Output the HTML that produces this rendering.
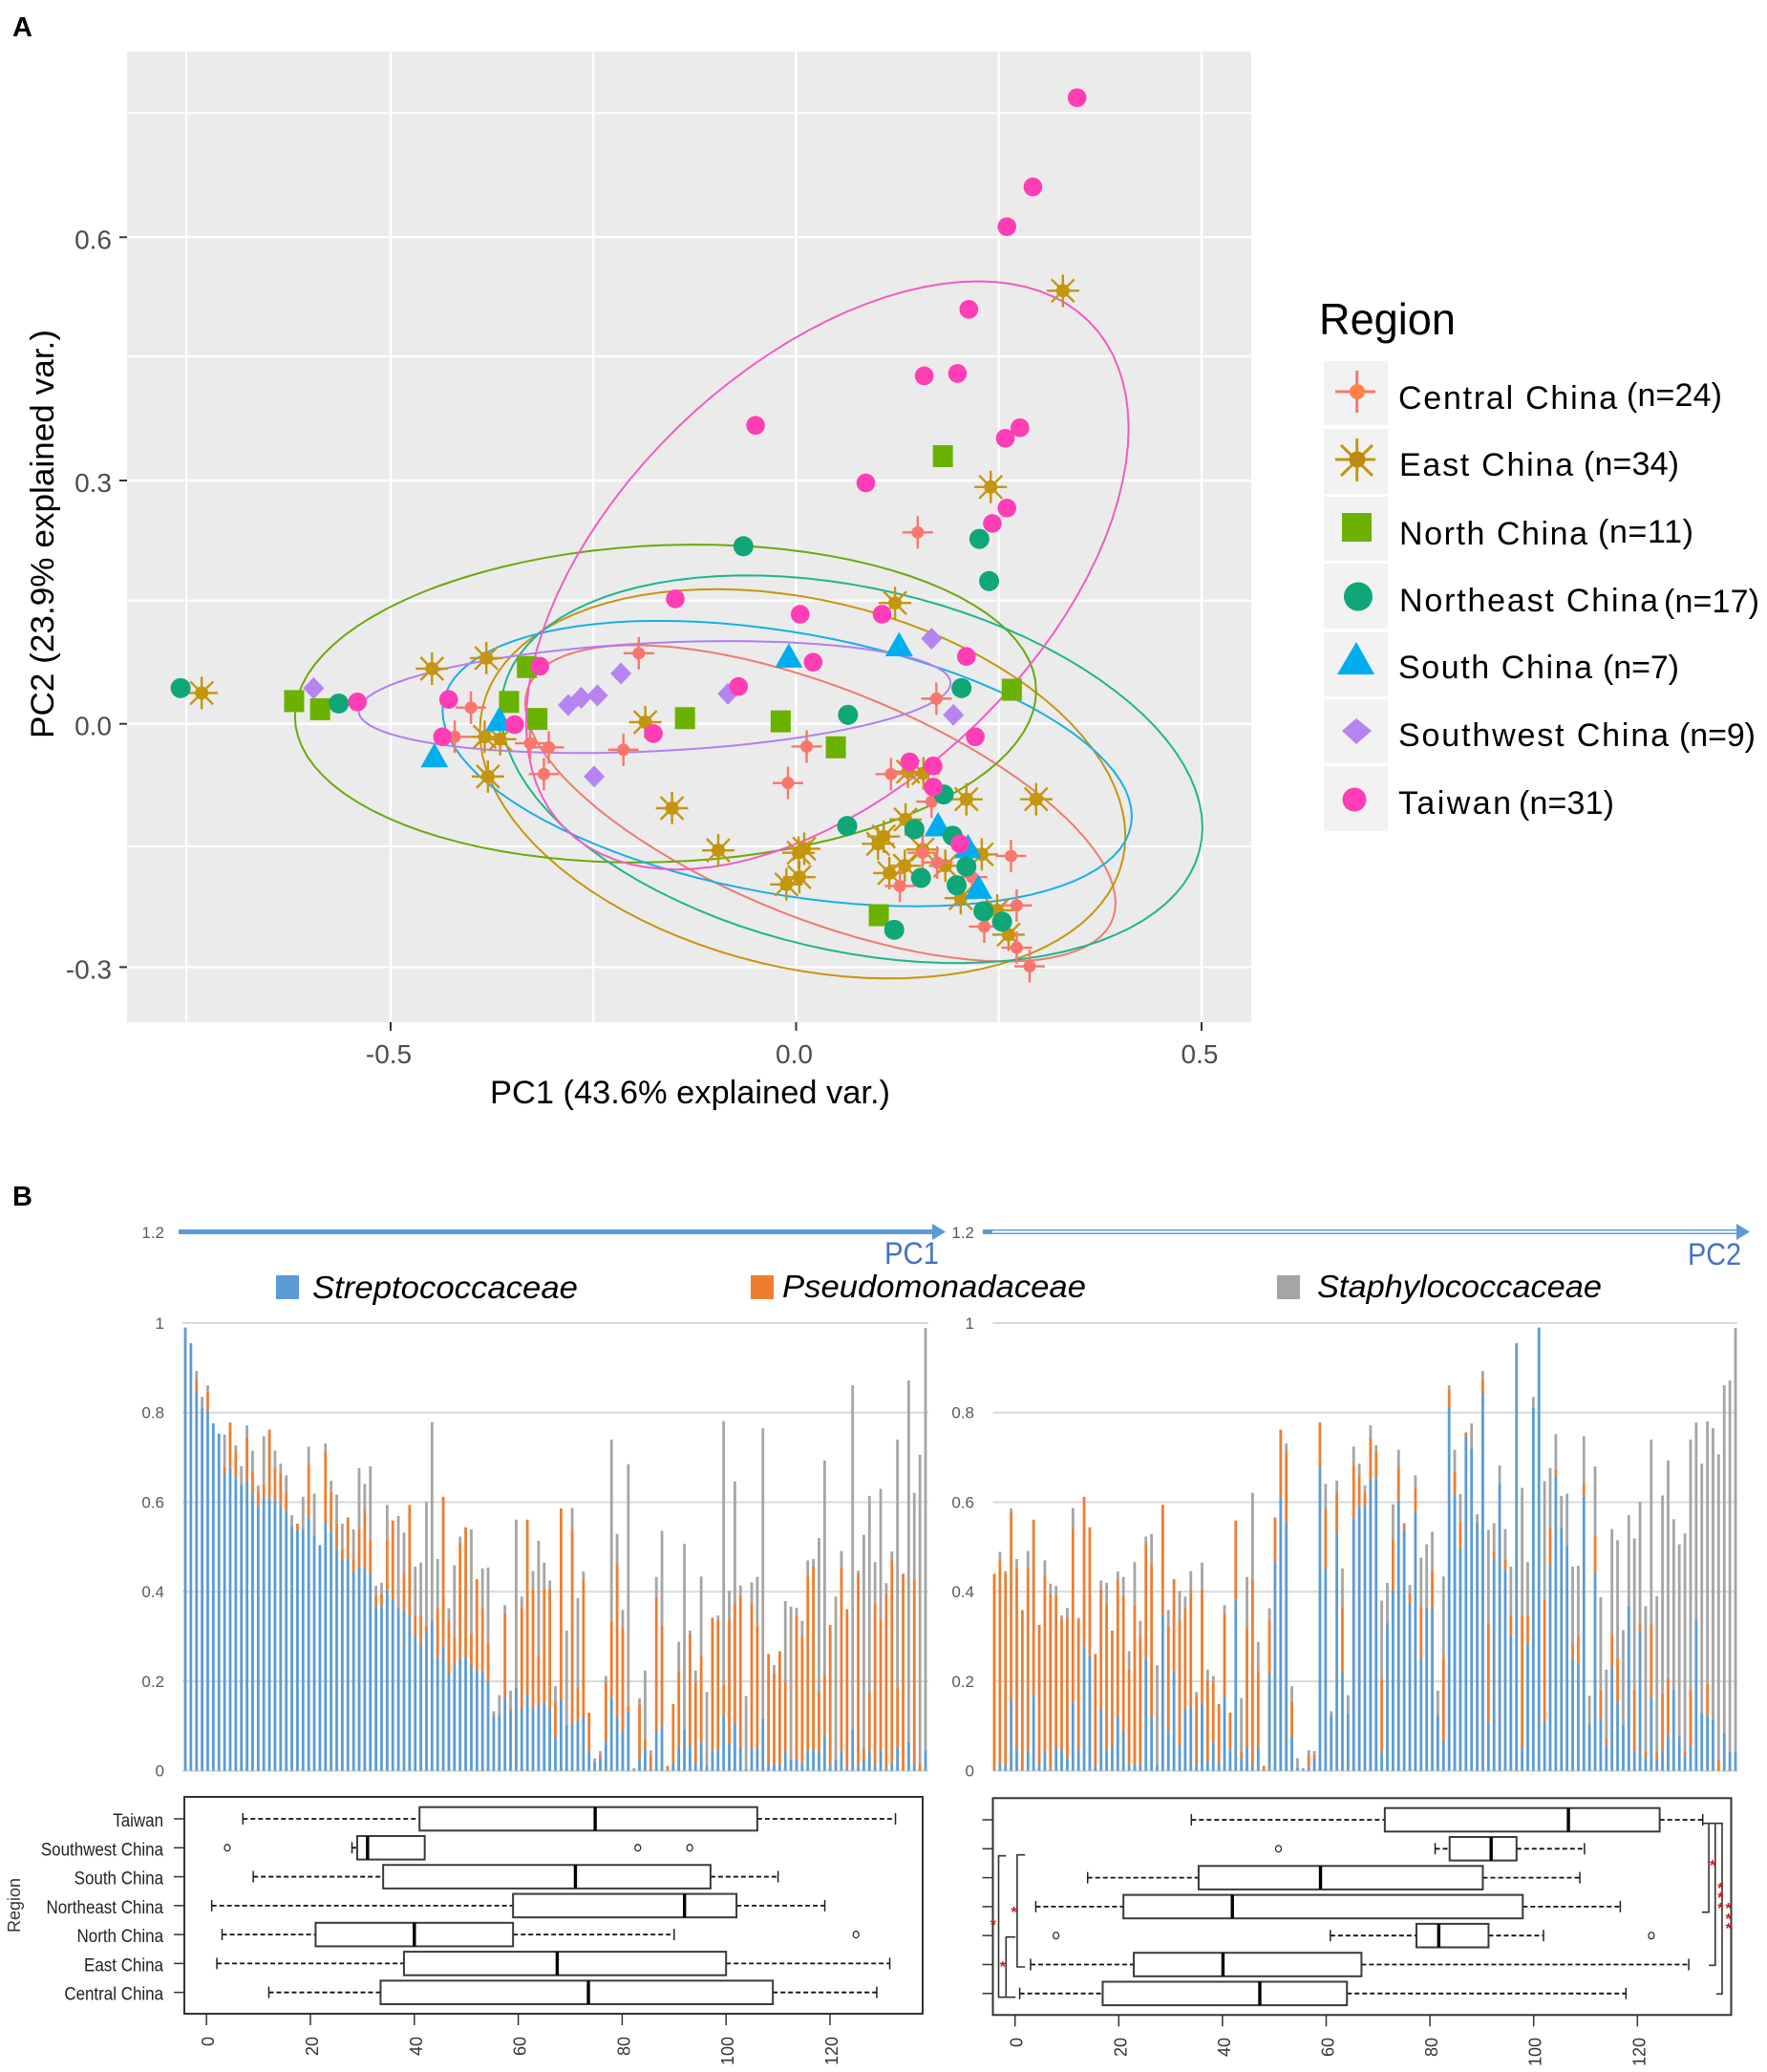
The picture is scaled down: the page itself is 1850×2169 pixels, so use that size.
<!DOCTYPE html>
<html lang="en">
<head>
<meta charset="utf-8">
<title>Region PCA and taxa abundance</title>
<style>
html,body{margin:0;padding:0;background:#fff;}
svg{display:block;font-family:"Liberation Sans",sans-serif;}
</style>
</head>
<body>
<svg id="figure" xmlns="http://www.w3.org/2000/svg" width="1850" height="2169" viewBox="0 0 1850 2169">
  <rect width="1850" height="2169" fill="#fff"/>
  <text x="13" y="38" font-size="29" font-weight="bold" fill="#000">A</text>
  <text x="13" y="1262" font-size="29" font-weight="bold" fill="#000">B</text>

  <g id="scatter"></g>
  <text x="513" y="1155" font-size="34" fill="#000" textLength="419" lengthAdjust="spacingAndGlyphs">PC1 (43.6% explained var.)</text>
  <text transform="translate(56,773) rotate(-90)" font-size="34" fill="#000" textLength="428" lengthAdjust="spacingAndGlyphs">PC2 (23.9% explained var.)</text>

  <g>
    <text x="1381" y="350" font-size="46" fill="#000" textLength="143" lengthAdjust="spacingAndGlyphs">Region</text>
    <rect x="1386" y="378" width="67" height="67" fill="#f2f2f2"/>
    <rect x="1386" y="449" width="67" height="68" fill="#f2f2f2"/>
    <rect x="1386" y="520" width="67" height="67" fill="#f2f2f2"/>
    <rect x="1386" y="590" width="67" height="68" fill="#f2f2f2"/>
    <rect x="1386" y="662" width="67" height="67" fill="#f2f2f2"/>
    <rect x="1386" y="732" width="67" height="67" fill="#f2f2f2"/>
    <rect x="1386" y="802" width="67" height="68" fill="#f2f2f2"/>

    <g>
      <path d="M1398 410H1440M1420.7 388V432" stroke="#F8766D" stroke-width="3" fill="none"/>
      <circle cx="1421" cy="410" r="8" fill="#FF8146"/>
    </g>
    <g>
      <path d="M1398 481H1440M1420.7 459V504M1404 466L1437 498M1404 498L1437 466" stroke="#C6950E" stroke-width="3" fill="none"/>
      <circle cx="1421" cy="481" r="8.5" fill="#BE8A0C"/>
    </g>
    <rect x="1405" y="537" width="31" height="30" fill="#6BB100"/>
    <circle cx="1422" cy="624.5" r="15" fill="#0FA678"/>
    <polygon points="1420,672 1400,706 1439,706" fill="#00ADEE"/>
    <polygon points="1420,752 1436,765 1420,779 1405,765" fill="#B684F0"/>
    <circle cx="1418" cy="837" r="12.5" fill="#FF3DB4"/>

    <g font-size="34" fill="#000">
      <text x="1464" y="428" textLength="229" lengthAdjust="spacing">Central China</text>
      <text x="1703" y="425" textLength="100" lengthAdjust="spacing">(n=24)</text>
      <text x="1465" y="498" textLength="182" lengthAdjust="spacing">East China</text>
      <text x="1658" y="497" textLength="100" lengthAdjust="spacing">(n=34)</text>
      <text x="1465" y="570" textLength="197" lengthAdjust="spacing">North China</text>
      <text x="1673" y="568" textLength="100" lengthAdjust="spacing">(n=11)</text>
      <text x="1465" y="640" textLength="271" lengthAdjust="spacing">Northeast China</text>
      <text x="1742" y="641" textLength="100" lengthAdjust="spacing">(n=17)</text>
      <text x="1464" y="710" textLength="203" lengthAdjust="spacing">South China</text>
      <text x="1678" y="710" textLength="80" lengthAdjust="spacing">(n=7)</text>
      <text x="1464" y="781" textLength="283" lengthAdjust="spacing">Southwest China</text>
      <text x="1758" y="781" textLength="80" lengthAdjust="spacing">(n=9)</text>
      <text x="1464" y="852" textLength="118" lengthAdjust="spacing">Taiwan</text>
      <text x="1590" y="852" textLength="100" lengthAdjust="spacing">(n=31)</text>
    </g>
  </g>

  <g>
    <rect x="187" y="1287" width="790" height="5" fill="#5B9BD5"/>
    <polygon points="976,1281 990,1289.5 976,1298" fill="#5B9BD5"/>
  </g>
  <g>
    <rect x="1029" y="1287" width="10" height="5" fill="#5B9BD5"/>
    <path d="M1037 1287.8H1820M1037 1291.2H1820" stroke="#5B9BD5" stroke-width="1.5" fill="none"/>
    <polygon points="1818,1281 1832,1289.5 1818,1298" fill="#5B9BD5"/>
  </g>
  <text x="926" y="1323" font-size="32" fill="#4472C4" textLength="57" lengthAdjust="spacingAndGlyphs">PC1</text>
  <text x="1767" y="1324" font-size="32" fill="#4472C4" textLength="56" lengthAdjust="spacingAndGlyphs">PC2</text>
  <text x="172" y="1296" text-anchor="end" font-size="17" fill="#595959">1.2</text>
  <text x="1020" y="1296" text-anchor="end" font-size="17" fill="#595959">1.2</text>

  <g>
    <rect x="289" y="1335" width="24" height="25" fill="#5B9BD5"/>
    <text x="327" y="1359" font-size="33" font-style="italic" fill="#000" textLength="278" lengthAdjust="spacingAndGlyphs">Streptococcaceae</text>
    <rect x="786" y="1335" width="24" height="25" fill="#ED7D31"/>
    <text x="819" y="1358" font-size="33" font-style="italic" fill="#000" textLength="318" lengthAdjust="spacingAndGlyphs">Pseudomonadaceae</text>
    <rect x="1337" y="1335" width="24" height="25" fill="#A5A5A5"/>
    <text x="1379" y="1358" font-size="33" font-style="italic" fill="#000" textLength="298" lengthAdjust="spacingAndGlyphs">Staphylococcaceae</text>
  </g>

  <g id="barsPc1"></g>
  <g id="barsPc2"></g>
  <g id="boxPc1"></g>
  <g id="boxPc2"></g>

  <text transform="translate(21,2023) rotate(-90)" font-size="18" fill="#333" textLength="57" lengthAdjust="spacingAndGlyphs">Region</text>

  <path d="M1053.3 1942.7H1045.5V2090.7H1053.3M1073.2 1941.7H1064.9V2059H1073.2M1063.2 2027.7H1053.3V2090.7H1063.2" fill="none" stroke="#333" stroke-width="1.6"/>
  <path d="M1783.5 1908.7H1803V2087.3H1796.9M1789.1 1908.7V2001.7H1781.9M1795.8 1908.7V2057.3H1789.1" fill="none" stroke="#333" stroke-width="1.6"/>
  <g font-size="16" fill="#E01020" text-anchor="middle" font-weight="bold">
    <text x="1061.6" y="2007">*</text>
    <text x="1039.9" y="2020">*</text>
    <text x="1049.9" y="2064">*</text>
    <text x="1793" y="1958">*</text>
    <text x="1801.3" y="1982">*</text>
    <text x="1801.3" y="1992">*</text>
    <text x="1801.3" y="2003">*</text>
    <text x="1809.6" y="2003">*</text>
    <text x="1809.6" y="2014">*</text>
    <text x="1809.6" y="2024">*</text>
  </g>
</svg>

<script>
/* ---------- Panel A data: PC1 / PC2 scores ---------- */
const centralChinaPoints = [[.150,.236],[-.194,.087],[-.401,.020],[-.421,-.016],[-.328,-.024],[-.305,-.029],[-.311,-.062],[-.213,-.032],[.173,.031],[.013,-.028],[-.010,-.073],[.117,-.062],[.167,-.096],[.265,-.163],[.156,-.159],[.174,-.171],[.128,-.200],[.217,-.189],[.272,-.224],[.232,-.250],[.272,-.276],[.288,-.299]];
const eastChinaPoints = [[.329,.534],[.240,.292],[-.733,.038],[-.449,.068],[-.382,.081],[-.384,-.016],[-.365,-.019],[-.380,-.065],[-.186,.002],[-.153,-.104],[.122,.149],[-.096,-.156],[.296,-.093],[.210,-.093],[.135,-.118],[.138,-.059],[.157,-.061],[.010,-.154],[.003,-.159],[.004,-.189],[-.012,-.198],[.108,-.139],[.101,-.148],[.115,-.184],[.134,-.175],[.156,-.155],[.184,-.175],[.229,-.161],[.203,-.215],[.248,-.230],[.262,-.260]];
const northChinaPoints = [[.181,.330],[-.619,.028],[-.587,.018],[-.332,.070],[-.354,.027],[-.319,.006],[-.137,.007],[-.019,.003],[.049,-.029],[.266,.042],[.102,-.236]];
const northeastChinaPoints = [[-.065,.219],[.226,.228],[.238,.176],[-.759,.044],[-.564,.025],[.204,.044],[.064,.011],[.182,-.087],[.063,-.126],[.146,-.130],[.193,-.138],[.210,-.176],[.154,-.190],[.198,-.199],[.231,-.231],[.254,-.244],[.121,-.254]];
const southChinaPoints = [[-.446,-.039],[-.366,.006],[-.009,.084],[.127,.098],[.175,-.124],[.212,-.151],[.225,-.201]];
const southwestChinaPoints = [[-.595,.044],[-.281,.023],[-.265,.032],[-.245,.035],[-.216,.062],[-.249,-.065],[-.084,.037],[.167,.105],[.194,.011]];
const taiwanPoints = [[.3465,.772],[.292,.662],[.260,.613],[.213,.511],[.199,.432],[.158,.429],[-.050,.368],[.276,.365],[.258,.352],[.086,.297],[.260,.266],[.242,.247],[-.149,.154],[.005,.135],[.106,.135],[.021,.076],[.210,.083],[-.316,.071],[-.071,.046],[-.4285,.030],[-.541,.027],[-.347,-.001],[-.436,-.016],[-.176,-.012],[.221,-.016],[.140,-.047],[.169,-.052],[.169,-.078],[.202,-.148]];

const scatterXTicks = [-0.5, 0, 0.5];
const scatterXTickLabels = ['-0.5', '0.0', '0.5'];
const scatterXMinor = [-0.752, -0.25, 0.25];
const scatterYTicks = [0.6, 0.3, 0, -0.3];
const scatterYTickLabels = ['0.6', '0.3', '0.0', '-0.3'];
const scatterYMinor = [0.753, 0.453, 0.152, -0.151];

/* ellipse summaries: centre, half extents, correlation (PC units) */
const ellipseNames = ['central', 'east', 'north', 'northeast', 'south', 'southwest', 'taiwan'];
const ellipseCenterPc1 = [0.030, 0.008, -0.161, 0.0685, -0.011, -0.1745, 0.0385];
const ellipseCenterPc2 = [-0.098, -0.074, 0.025, -0.056, -0.049, 0.033, 0.183];
const ellipseHalfPc1 = [0.364, 0.398, 0.457, 0.4325, 0.425, 0.365, 0.3715];
const ellipseHalfPc2 = [0.195, 0.240, 0.196, 0.239, 0.176, 0.069, 0.3626];
const ellipseCorr = [-0.63, -0.27, 0.08, -0.30, -0.37, 0.25, 0.50];
const ellipseColors = ['#EC7B72', '#C6950E', '#6BA80A', '#1DB58C', '#1AAEE6', '#B080F0', '#F05CC4'];

/* ---------- Panel B data: cumulative stacked proportions per sample ---------- */
const pc1StreptoTop = [.99,.955,.845,.81,.805,.776,.753,.664,.676,.655,.64,.649,.618,.591,.61,.61,.605,.591,.58,.548,.537,.541,.566,.527,.504,.554,.534,.497,.473,.473,.445,.456,.452,.441,.37,.367,.404,.381,.363,.359,.345,.302,.285,.31,.336,.253,.278,.217,.235,.251,.255,.235,.224,.222,.199,.125,.125,.165,.135,.185,.139,.171,.142,.148,.153,.139,.075,.158,.103,.107,.112,.121,.044,.02,.028,.065,.164,.121,.089,.132,.003,.028,.05,.004,.089,.103,0,.016,.053,.093,.057,.018,.064,.011,.046,.046,.125,.06,.107,.053,.004,.05,.053,.117,.014,.016,.014,.043,.025,.027,.018,.046,.048,.043,.078,.014,.025,.043,.006,.093,.014,.025,.046,.014,.046,.004,.018,.053,.001,.064,.014,0,.046];
const pc1PseudoTop = [.99,.955,.875,.81,.847,.776,.753,.678,.778,.712,.64,.744,.669,.626,.64,.762,.676,.664,.623,.548,.552,.541,.683,.527,.504,.712,.623,.552,.495,.566,.473,.541,.584,.516,.391,.395,.516,.559,.363,.441,.594,.345,.349,.324,.336,.363,.612,.336,.299,.507,.544,.306,.428,.367,.285,.125,.125,.352,.139,.185,.367,.561,.406,.256,.406,.406,.153,.586,.103,.541,.185,.427,.13,.02,.036,.199,.335,.463,.32,.146,.003,.149,.071,.036,.388,.324,.011,.149,.224,.093,.306,.199,.256,.011,.342,.338,.192,.338,.374,.391,.004,.374,.324,.117,.261,.217,.267,.199,.025,.345,.299,.438,.456,.178,.214,.326,.025,.454,.361,.093,.441,.05,.174,.374,.338,.395,.473,.185,.44,.064,.427,.018,.046];
const pc1StaphTop = [.99,.955,.893,.835,.861,.776,.753,.751,.778,.727,.68,.771,.715,.637,.747,.762,.715,.686,.66,.571,.552,.612,.724,.619,.504,.731,.648,.617,.552,.566,.539,.676,.641,.68,.413,.42,.594,.559,.569,.532,.594,.456,.465,.601,.779,.473,.612,.363,.459,.523,.544,.539,.428,.452,.454,.133,.169,.37,.179,.561,.389,.561,.446,.514,.465,.425,.189,.586,.313,.587,.386,.445,.13,.028,.044,.212,.74,.529,.359,.685,.006,.162,.224,.046,.433,.536,.011,.149,.288,.507,.313,.224,.434,.176,.342,.347,.781,.402,.646,.414,.167,.421,.433,.765,.261,.236,.267,.379,.367,.364,.335,.47,.473,.52,.693,.326,.389,.491,.361,.861,.447,.527,.614,.466,.63,.419,.49,.74,.44,.872,.621,.706,.989];

const pc2StreptoTop = [0,.018,.011,.157,.05,.001,.044,.167,.014,.044,.004,.053,.046,.028,.153,.046,.278,.256,.011,.137,.046,.057,.121,.089,.011,.014,.014,.251,.121,.011,.349,.089,.222,.057,.139,.144,.014,.149,.02,.064,.018,.165,.046,.381,.028,.053,.014,.053,0,.217,.466,.611,.555,.075,.006,.003,.007,.028,.678,.452,.125,.532,.222,.128,.566,.591,.591,.652,.656,.042,.33,.403,.604,.538,.373,.578,.251,.364,.364,.125,.068,.811,.617,.497,.747,.72,.554,.843,.111,.477,.643,.451,.303,.955,.05,.286,.811,.99,.111,.46,.66,.543,.503,.251,.24,.612,.105,.443,.116,.055,.233,.155,.103,.368,.042,.312,.029,.164,.024,.046,.077,.181,.077,.033,.055,.338,.129,.125,.116,0,.085,.042,.042];
const pc2PseudoTop = [.44,.47,.44,.58,.452,.359,.453,.561,.326,.438,.395,.391,.338,.343,.541,.338,.612,.544,.261,.406,.374,.313,.427,.391,.228,.37,.299,.507,.461,.011,.594,.324,.428,.338,.363,.406,.167,.406,.201,.199,.149,.352,.13,.559,.043,.32,.427,.224,.011,.336,.566,.762,.712,.153,.006,.003,.036,.036,.778,.584,.125,.623,.367,.128,.683,.662,.623,.743,.714,.207,.33,.517,.678,.553,.395,.63,.368,.364,.447,.125,.255,.852,.669,.556,.756,.72,.555,.874,.329,.49,.643,.473,.347,.955,.347,.347,.811,.99,.382,.543,.673,.543,.503,.286,.299,.641,.105,.525,.181,.072,.303,.251,.103,.368,.181,.329,.042,.329,.042,.172,.207,.181,.077,.042,.181,.338,.129,.194,.116,.024,.085,.042,.042];
const pc2StaphTop = [.44,.489,.446,.586,.473,.359,.491,.561,.326,.47,.418,.413,.347,.364,.587,.342,.612,.544,.261,.425,.42,.313,.445,.433,.267,.466,.335,.523,.529,.236,.594,.359,.428,.402,.389,.446,.176,.465,.226,.212,.149,.37,.13,.559,.162,.433,.621,.288,.011,.363,.566,.762,.731,.189,.028,.006,.046,.044,.778,.641,.133,.648,.452,.169,.724,.686,.637,.772,.727,.38,.42,.595,.717,.553,.415,.66,.476,.506,.534,.179,.434,.861,.717,.618,.756,.776,.573,.893,.538,.553,.682,.54,.456,.955,.632,.466,.835,.99,.647,.676,.752,.614,.619,.456,.458,.747,.168,.68,.388,.226,.54,.515,.314,.571,.519,.601,.368,.74,.39,.615,.693,.562,.506,.53,.74,.778,.686,.78,.765,.707,.861,.872,.989];

const barYTicks = [0, 0.2, 0.4, 0.6, 0.8, 1];
const barYTickLabels = ['0', '0.2', '0.4', '0.6', '0.8', '1'];

/* ---------- Boxplot data: ordered from top row to bottom row ---------- */
const boxRegions = ['Taiwan', 'Southwest China', 'South China', 'Northeast China', 'North China', 'East China', 'Central China'];
const boxTicks = [0, 20, 40, 60, 80, 100, 120];
const boxTickLabels = ['0', '20', '40', '60', '80', '100', '120'];
const pc1BoxLow = [7, 28, 9, 1, 3, 2, 12];
const pc1BoxQ1 = [41, 29, 34, 59, 21, 38, 33.5];
const pc1BoxMedian = [74.8, 31, 71, 92, 40, 67.5, 73.5];
const pc1BoxQ3 = [106, 42, 97, 102, 59, 100, 109];
const pc1BoxHigh = [132.6, 42, 110, 119, 90, 131.5, 129];
const pc1BoxOutliers = [[], [4, 83, 93], [], [], [125], [], []];
const pc2BoxLow = [34, 81, 14, 4, 60.8, 3, 0.9];
const pc2BoxQ1 = [71.3, 83.8, 35.4, 20.9, 77.4, 22.9, 16.9];
const pc2BoxMedian = [106.7, 91.8, 58.9, 41.9, 81.7, 40.1, 47.2];
const pc2BoxQ3 = [124.3, 96.7, 90.2, 97.9, 91.3, 66.8, 64];
const pc2BoxHigh = [132.6, 109.8, 108.9, 116.7, 101.9, 129.9, 117.8];
const pc2BoxOutliers = [[], [50.8], [], [], [7.9, 122.7], [], []];

/* ---------- helpers ---------- */
const SVGNS = 'http://www.w3.org/2000/svg';
function mk(parent, tag, attrs) {
  const el = document.createElementNS(SVGNS, tag);
  for (const k in attrs) el.setAttribute(k, attrs[k]);
  parent.appendChild(el);
  return el;
}

/* ---------- Panel A ---------- */
const scatter = document.getElementById('scatter');
const plotLeft = 133, plotRight = 1310, plotTop = 54, plotBottom = 1070;
const sx = v => 833.5 + 849 * v;
const sy = v => 757.7 - 849 * v;

(function drawScatterFrame() {
  let el = mk(scatter, 'rect', {x: plotLeft, y: plotTop, width: plotRight - plotLeft, height: plotBottom - plotTop, fill: '#EBEBEB'});
  
  
  scatterXMinor.forEach(v => {
    const g = mk(scatter, 'line', {x1: sx(v), x2: sx(v), y1: plotTop, y2: plotBottom, stroke: '#fff', 'stroke-width': 2});
    
    
  });
  scatterYMinor.forEach(v => {
    const g = mk(scatter, 'line', {x1: plotLeft, x2: plotRight, y1: sy(v), y2: sy(v), stroke: '#fff', 'stroke-width': 2});
    
    
  });
  scatterXTicks.forEach((v, i) => {
    const g = mk(scatter, 'line', {x1: sx(v), x2: sx(v), y1: plotTop, y2: plotBottom, stroke: '#fff', 'stroke-width': 2.5});
    
    
    const t = mk(scatter, 'line', {x1: sx(v), x2: sx(v), y1: plotBottom, y2: plotBottom + 9, stroke: '#333', 'stroke-width': 2});
    
    
    const l = mk(scatter, 'text', {x: sx(v) - 2, y: 1113, 'text-anchor': 'middle', 'font-size': 28, fill: '#4D4D4D'});
    
    
    l.textContent = scatterXTickLabels[i];
  });
  scatterYTicks.forEach((v, i) => {
    const g = mk(scatter, 'line', {x1: plotLeft, x2: plotRight, y1: sy(v), y2: sy(v), stroke: '#fff', 'stroke-width': 2.5});
    
    
    const t = mk(scatter, 'line', {x1: 125, x2: plotLeft, y1: sy(v), y2: sy(v), stroke: '#333', 'stroke-width': 2});
    
    
    const l = mk(scatter, 'text', {x: 117, y: sy(v) + 12, 'text-anchor': 'end', 'font-size': 28, fill: '#4D4D4D'});
    
    
    l.textContent = scatterYTickLabels[i];
  });
})();

ellipseNames.forEach((name, i) => {
  const pts = [];
  const r = ellipseCorr[i], q = Math.sqrt(1 - r * r);
  for (let k = 0; k < 96; k++) {
    const t = k / 96 * 2 * Math.PI;
    const px = ellipseCenterPc1[i] + ellipseHalfPc1[i] * Math.cos(t);
    const py = ellipseCenterPc2[i] + ellipseHalfPc2[i] * (r * Math.cos(t) + q * Math.sin(t));
    pts.push(sx(px).toFixed(1) + ',' + sy(py).toFixed(1));
  }
  const el = mk(scatter, 'polygon', {points: pts.join(' '), fill: 'none', stroke: ellipseColors[i], 'stroke-width': 2});
  
  
});

function drawPlus(cx, cy) {
  mk(scatter, 'path', {d: `M${cx-16} ${cy}H${cx+16}M${cx} ${cy-17}V${cy+17}`, stroke: '#F8766D', 'stroke-width': 2.4, fill: 'none'});
  mk(scatter, 'circle', {cx, cy, r: 6.5, fill: '#F8766D'});
}
function drawStar(cx, cy) {
  mk(scatter, 'path', {d: `M${cx-17} ${cy}H${cx+17}M${cx} ${cy-17}V${cy+17}M${cx-12} ${cy-12}L${cx+12} ${cy+12}M${cx-12} ${cy+12}L${cx+12} ${cy-12}`, stroke: '#C6950E', 'stroke-width': 2.4, fill: 'none'});
  mk(scatter, 'circle', {cx, cy, r: 7, fill: '#C6950E'});
}

eastChinaPoints.forEach(p => {
  drawStar(sx(p[0]), sy(p[1]));
  const m = scatter.lastChild;
  
  
});
centralChinaPoints.forEach(p => {
  drawPlus(sx(p[0]), sy(p[1]));
  const m = scatter.lastChild;
  
  
});
northChinaPoints.forEach(p => {
  const m = mk(scatter, 'rect', {x: sx(p[0]) - 10.5, y: sy(p[1]) - 11.5, width: 21, height: 23, fill: '#6BB100'});
  
  
});
southChinaPoints.forEach(p => {
  const x = sx(p[0]), y = sy(p[1]);
  const m = mk(scatter, 'polygon', {points: `${x},${y-13} ${x-14.5},${y+12.5} ${x+14.5},${y+12.5}`, fill: '#00ADEE'});
  
  
});
southwestChinaPoints.forEach(p => {
  const x = sx(p[0]), y = sy(p[1]);
  const m = mk(scatter, 'polygon', {points: `${x},${y-11.5} ${x+11},${y} ${x},${y+11.5} ${x-11},${y}`, fill: '#B684F0'});
  
  
});
northeastChinaPoints.forEach(p => {
  const m = mk(scatter, 'circle', {cx: sx(p[0]), cy: sy(p[1]), r: 10.5, fill: '#0FA678'});
  
  
});
taiwanPoints.forEach(p => {
  const m = mk(scatter, 'circle', {cx: sx(p[0]), cy: sy(p[1]), r: 9.8, fill: '#FF3DB4'});
  
  
});

/* ---------- Panel B stacked bars ---------- */
const barY = v => 1853.7 - 468.7 * v;
function drawBars(groupId, gridLeft, gridRight, firstBar, lastBar, labelRight, streptoTop, pseudoTop, staphTop, key) {
  const g = document.getElementById(groupId);
  barYTicks.forEach((v, i) => {
    const grid = mk(g, 'line', {x1: gridLeft, x2: gridRight, y1: barY(v), y2: barY(v), stroke: '#D9D9D9', 'stroke-width': 2});
    
    
    const l = mk(g, 'text', {x: labelRight, y: barY(v) + 6, 'text-anchor': 'end', 'font-size': 17, fill: '#595959'});
    
    
    l.textContent = barYTickLabels[i];
  });
  const n = streptoTop.length;
  const bx = i => firstBar + (lastBar - firstBar) * i / (n - 1);
  const w = 2.8;
  streptoTop.forEach((b, i) => {
    const o = pseudoTop[i], s = staphTop[i], x = bx(i) - w / 2;
    if (b > 0) {
      const r1 = mk(g, 'rect', {x, y: barY(b), width: w, height: barY(0) - barY(b), fill: '#5B9BD5'});
      
      
    }
    if (o > b) {
      const r2 = mk(g, 'rect', {x, y: barY(o), width: w, height: barY(b) - barY(o), fill: '#ED7D31'});
      
      
    }
    if (s > o) {
      const r3 = mk(g, 'rect', {x, y: barY(s), width: w, height: barY(o) - barY(s), fill: '#A5A5A5'});
      
      
    }
  });
}
drawBars('barsPc1', 191, 972, 194, 969, 172, pc1StreptoTop, pc1PseudoTop, pc1StaphTop, 'pc1');
drawBars('barsPc2', 1039.5, 1819, 1041, 1817, 1020, pc2StreptoTop, pc2PseudoTop, pc2StaphTop, 'pc2');

/* ---------- Boxplots ---------- */
function drawBox(cfg) {
  const g = document.getElementById(cfg.id);
  const bx = v => cfg.x0 + cfg.xk * v;
  const by = i => cfg.y0 + cfg.yStep * i;
  const frame = mk(g, 'rect', {x: cfg.left, y: cfg.top, width: cfg.right - cfg.left, height: cfg.bottom - cfg.top, fill: 'none', stroke: '#333', 'stroke-width': 2});
  
  
  boxTicks.forEach((v, i) => {
    const t = mk(g, 'line', {x1: bx(v), x2: bx(v), y1: cfg.bottom, y2: cfg.bottom + 12, stroke: '#333', 'stroke-width': 1.5});
    
    
    const l = mk(g, 'text', {transform: `translate(${bx(v) + 8},${cfg.labelTop}) rotate(-90)`, 'text-anchor': 'end', 'font-size': 18, fill: '#333'});
    
    
    l.textContent = boxTickLabels[i];
  });
  boxRegions.forEach((name, i) => {
    const y = by(i), h = 12.3;
    const tick = mk(g, 'line', {x1: cfg.left - 11, x2: cfg.left, y1: y, y2: y, stroke: '#333', 'stroke-width': 1.5});
    
    
    if (cfg.showLabels) {
      const l = mk(g, 'text', {transform: `translate(171,${y + 8}) scale(.97,1.1)`, 'text-anchor': 'end', 'font-size': 17.5, fill: '#222'});
      
      
      l.textContent = name;
    }
    const lo = cfg.low[i], q1 = cfg.q1[i], med = cfg.med[i], q3 = cfg.q3[i], hi = cfg.high[i];
    const whisk = mk(g, 'path', {d: `M${bx(lo)} ${y}H${bx(q1)}M${bx(q3)} ${y}H${bx(hi)}`, fill: 'none', stroke: '#111', 'stroke-width': 1.8, 'stroke-dasharray': '5 3'});
    
    
    const caps = mk(g, 'path', {d: `M${bx(lo)} ${y-6}V${y+6}` + (hi > q3 ? `M${bx(hi)} ${y-6}V${y+6}` : ''), fill: 'none', stroke: '#222', 'stroke-width': 1.5});
    
    
    const box = mk(g, 'rect', {x: bx(q1), y: y - h, width: bx(q3) - bx(q1), height: 2 * h, fill: '#fff', stroke: '#3a3a3a', 'stroke-width': 2});
    
    
    const m = mk(g, 'line', {x1: bx(med), x2: bx(med), y1: y - h, y2: y + h, stroke: '#000', 'stroke-width': 3.4});
    
    
    cfg.outliers[i].forEach(v => {
      const o = mk(g, 'ellipse', {cx: bx(v), cy: y, rx: 3, ry: 3.5, fill: '#fff', stroke: '#222', 'stroke-width': 1.2});
      
      
    });
  });
}
drawBox({id: 'boxPc1', key: 'pc1', x0: 216.2, xk: 5.44, y0: 1904, yStep: 30.28, left: 193, right: 966, top: 1881, bottom: 2108, labelTop: 2132, showLabels: true,
  low: pc1BoxLow, q1: pc1BoxQ1, med: pc1BoxMedian, q3: pc1BoxQ3, high: pc1BoxHigh, outliers: pc1BoxOutliers});
drawBox({id: 'boxPc2', key: 'pc2', x0: 1062.7, xk: 5.43, y0: 1905, yStep: 30.3, left: 1039.5, right: 1812.5, top: 1882.3, bottom: 2109.3, labelTop: 2133, showLabels: false,
  low: pc2BoxLow, q1: pc2BoxQ1, med: pc2BoxMedian, q3: pc2BoxQ3, high: pc2BoxHigh, outliers: pc2BoxOutliers});
</script>
</body>
</html>
